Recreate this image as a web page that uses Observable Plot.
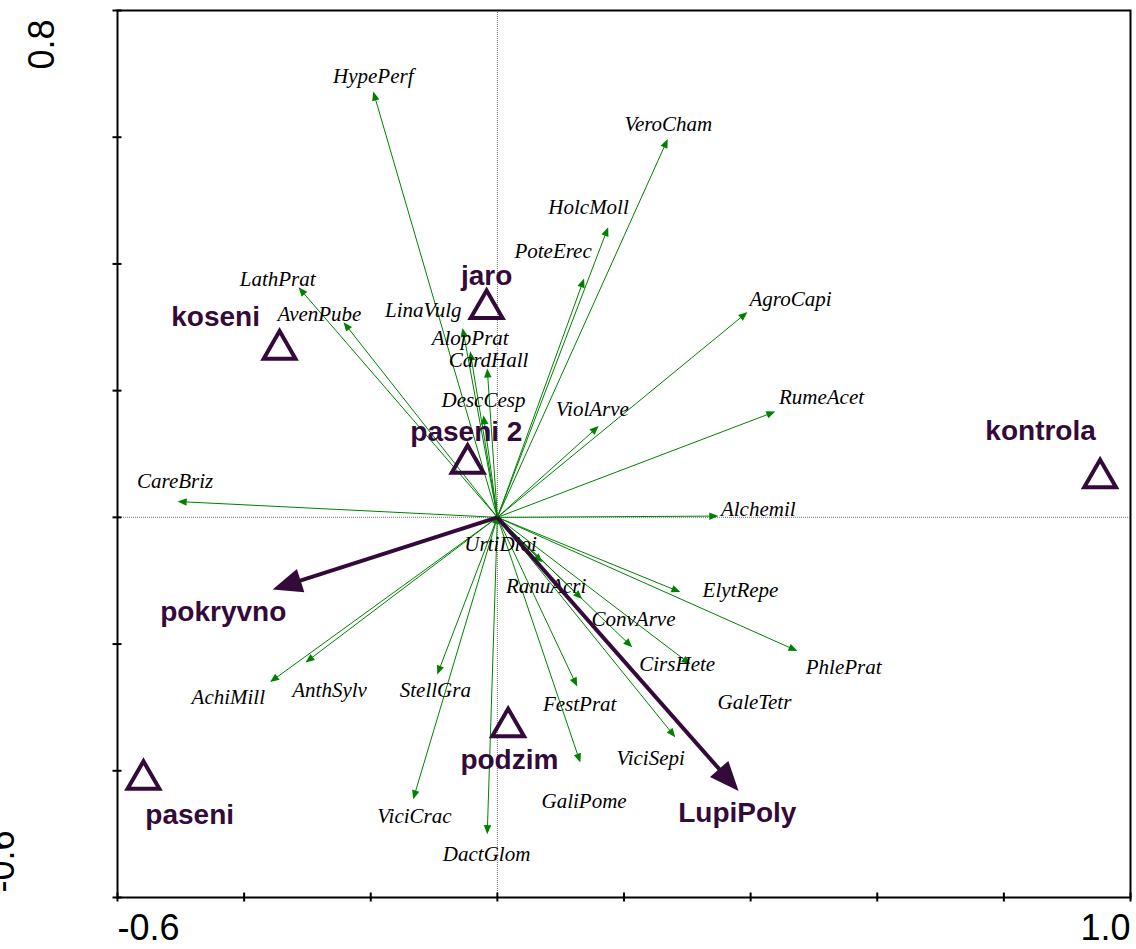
<!DOCTYPE html>
<html><head><meta charset="utf-8">
<script src="https://cdn.jsdelivr.net/npm/d3@7"></script>
<script src="https://cdn.jsdelivr.net/npm/@observablehq/plot@0.6"></script>
<style>html,body{margin:0;padding:0;background:#fff;overflow:hidden}</style>
</head><body><div id="chart"></div>
<script>
// Species (green arrows)
const speciesNames = ["HypePerf","VeroCham","HolcMoll","PoteErec","AgroCapi","RumeAcet","ViolArve","Alchemil",
  "LathPrat","AvenPube","LinaVulg","AlopPrat","CardHall","DescCesp","UrtiDioi","CareBriz",
  "AchiMill","AnthSylv","StellGra","ViciCrac","DactGlom","RanuAcri","ConvArve","CirsHete",
  "GaleTetr","PhlePrat","ElytRepe","FestPrat","GaliPome","ViciSepi"];
const speciesX = [-0.196,0.269,0.175,0.137,0.395,0.439,0.160,0.349,
  -0.314,-0.243,-0.055,-0.043,-0.016,-0.022,0.001,-0.505,
  -0.359,-0.303,-0.095,-0.133,-0.016,0.071,0.134,0.213,
  0.305,0.474,0.289,0.126,0.131,0.281];
const speciesY = [0.672,0.597,0.458,0.377,0.324,0.167,0.144,0.002,
  0.363,0.308,0.299,0.262,0.235,0.161,0.004,0.025,
  -0.260,-0.229,-0.248,-0.445,-0.500,-0.071,-0.129,-0.205,
  -0.232,-0.211,-0.118,-0.267,-0.387,-0.347];
const speciesLabelX = [-0.196,0.270,0.144,0.088,0.463,0.512,0.150,0.412,
  -0.347,-0.281,-0.117,-0.043,-0.014,-0.022,0.005,-0.509,
  -0.425,-0.265,-0.098,-0.131,-0.017,0.077,0.215,0.284,
  0.406,0.547,0.384,0.130,0.137,0.242];
const speciesLabelY = [0.696,0.620,0.489,0.420,0.344,0.189,0.170,0.013,
  0.376,0.320,0.327,0.283,0.248,0.185,-0.043,0.057,
  -0.284,-0.273,-0.273,-0.472,-0.532,-0.109,-0.161,-0.232,
  -0.292,-0.237,-0.115,-0.295,-0.448,-0.380];

// Environmental variables (thick arrows)
const envNames = ["pokryvno","LupiPoly"];
const envX = [-0.355,0.381];
const envY = [-0.114,-0.432];
const envLabelX = [-0.433,0.379];
const envLabelY = [-0.150,-0.467];

// Nominal variables (triangles)
const sampleNames = ["koseni","jaro","paseni 2","kontrola","podzim","paseni"];
const sampleX = [-0.344,-0.017,-0.047,0.952,0.017,-0.559];
const sampleY = [0.265,0.329,0.085,0.062,-0.331,-0.414];
const sampleLabelX = [-0.445,-0.017,-0.049,0.858,0.019,-0.486];
const sampleLabelY = [0.316,0.381,0.134,0.137,-0.383,-0.470];

// Axes
const xTicks = [-0.6,-0.4,-0.2,0,0.2,0.4,0.6,0.8,1.0];
const yTicks = [-0.6,-0.4,-0.2,0,0.2,0.4,0.6,0.8];
const xTickLabelValues = [-0.6,1.0];
const xTickLabels = ["-0.6","1.0"];
const yTickLabelValues = [0.8,-0.6];
const yTickLabels = ["0.8","-0.6"];

const green = "#008000";
const purple = "#330a3a";
const pxPerUnit = 633;

const headSymbol = {
  draw(ctx, size) {
    const r = Math.sqrt(size / Math.PI);
    const L = 3 * r, W = 1.25 * r;
    ctx.moveTo(0, 0); ctx.lineTo(-W, L); ctx.lineTo(W, L); ctx.closePath();
  }
};
function trimmed(x, y, L) {
  const len = Math.hypot(x, y) * pxPerUnit;
  const f = len > L ? 1 - L / len : 0;
  return [x * f, y * f];
}
const angle = (x, y) => Math.atan2(x, y) * 180 / Math.PI;

const species = speciesNames.map((name, i) => {
  const [tx, ty] = trimmed(speciesX[i], speciesY[i], 6);
  return {name, x: speciesX[i], y: speciesY[i], tx, ty, lx: speciesLabelX[i], ly: speciesLabelY[i], a: angle(speciesX[i], speciesY[i])};
});
const envs = envNames.map((name, i) => {
  const [tx, ty] = trimmed(envX[i], envY[i], 20);
  return {name, x: envX[i], y: envY[i], tx, ty, lx: envLabelX[i], ly: envLabelY[i], a: angle(envX[i], envY[i])};
});
const samples = sampleNames.map((name, i) => ({name, x: sampleX[i], y: sampleY[i], lx: sampleLabelX[i], ly: sampleLabelY[i]}));

const serif = "'Liberation Serif','Times New Roman',Times,serif";
const sans = "'Liberation Sans',Arial,Helvetica,sans-serif";

const chart = Plot.plot({
  width: 1136,
  height: 949,
  marginLeft: 117,
  marginRight: 6,
  marginTop: 10,
  marginBottom: 52,
  x: {domain: [-0.6, 1.0], axis: null},
  y: {domain: [-0.6, 0.8], axis: null},
  style: {background: "white", fontFamily: sans},
  marks: [
    Plot.ruleX([0], {stroke: "#777", strokeWidth: 1, strokeDasharray: "1,1"}),
    Plot.ruleY([0], {stroke: "#777", strokeWidth: 1, strokeDasharray: "1,1"}),
    Plot.link(species, {x1: () => 0, y1: () => 0, x2: "tx", y2: "ty", stroke: green, strokeWidth: 1}),
    Plot.dot(species, {x: "x", y: "y", symbol: headSymbol, r: 3, rotate: "a", fill: green, stroke: "none"}),
    Plot.text(species, {x: "lx", y: "ly", text: "name", fontFamily: serif, fontStyle: "italic", fontSize: 21, fill: "black"}),
    Plot.link(envs, {x1: () => 0, y1: () => 0, x2: "tx", y2: "ty", stroke: purple, strokeWidth: 4}),
    Plot.dot(envs, {x: "x", y: "y", symbol: headSymbol, r: 9.8, rotate: "a", fill: purple, stroke: "none"}),
    Plot.text(envs, {x: "lx", y: "ly", text: "name", fontFamily: sans, fontWeight: "bold", fontSize: 28, fill: purple}),
    Plot.dot(samples, {x: "x", y: "y", symbol: "triangle", r: 11.8, stroke: purple, strokeWidth: 4, strokeLinejoin: "miter", fill: "none"}),
    Plot.text(samples, {x: "lx", y: "ly", text: "name", fontFamily: sans, fontWeight: "bold", fontSize: 28, fill: purple}),
    Plot.frame({stroke: "black", strokeWidth: 2}),
    Plot.ruleX(xTicks, {x: d => d, y1: () => -0.6, y2: () => -0.6, insetTop: -4.5, insetBottom: -4.5, stroke: "black", strokeWidth: 2}),
    Plot.ruleY(yTicks, {y: d => d, x1: () => -0.6, x2: () => -0.6, insetLeft: -4.5, insetRight: -4.5, stroke: "black", strokeWidth: 2}),
    Plot.text([0], {x: () => xTickLabelValues[0], y: () => -0.6, text: () => xTickLabels[0], textAnchor: "start", dy: 31, fontSize: 36, fill: "black"}),
    Plot.text([0], {x: () => xTickLabelValues[1], y: () => -0.6, text: () => xTickLabels[1], textAnchor: "end", dy: 31, fontSize: 36, fill: "black"}),
    Plot.text([0], {x: () => -0.6, y: () => yTickLabelValues[0], text: () => yTickLabels[0], rotate: -90, dx: -75.5, dy: 34, fontSize: 36, fill: "black"}),
    Plot.text([0], {x: () => -0.6, y: () => yTickLabelValues[1], text: () => yTickLabels[1], rotate: -90, dx: -115, dy: -36, fontSize: 36, fill: "black"})
  ]
});
document.getElementById("chart").appendChild(chart);
</script>
</body></html>
